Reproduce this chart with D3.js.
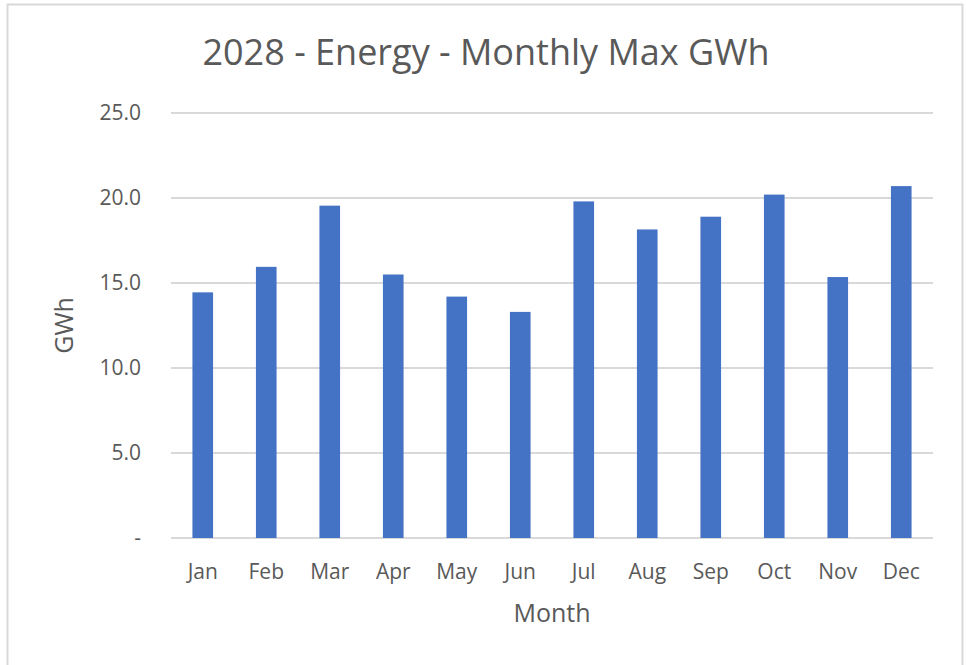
<!doctype html>
<html>
<head>
  <meta charset="UTF-8">
  <script src="https://d3js.org/d3.v7.min.js"></script>
  <style>
    body { margin: 0; background: #fff; }
    text { font-family: "Open Sans", sans-serif; fill: #595959; }
  </style>
</head>
<body>
<svg width="966" height="665"></svg>
<script>
// chart values
var months = ["Jan","Feb","Mar","Apr","May","Jun","Jul","Aug","Sep","Oct","Nov","Dec"];
var maxGwh = [14.45, 15.95, 19.55, 15.5, 14.2, 13.3, 19.8, 18.15, 18.9, 20.2, 15.35, 20.7];
var yTicks = [0, 5, 10, 15, 20, 25];
var titleText = "2028 - Energy - Monthly Max GWh";

var svg = d3.select("svg");
var margin = {top: 113, right: 33, bottom: 127, left: 171};
var width = 966 - margin.left - margin.right;
var height = 665 - margin.top - margin.bottom;

// chart frame
svg.append("rect")
  .attr("x", 7.5).attr("y", 4.5)
  .attr("width", 955).attr("height", 665)
  .attr("fill", "none").attr("stroke", "#d9d9d9").attr("stroke-width", 2);

var x = d3.scaleBand().domain(months).range([0, width]).paddingInner(0.675).paddingOuter(0.3375);
var y = d3.scaleLinear().domain([0, 25]).range([height, 0]);

var g = svg.append("g").attr("transform", "translate(" + margin.left + "," + margin.top + ")");

// gridlines
g.append("g").selectAll("line")
  .data(yTicks)
  .join("line")
  .attr("x1", 0).attr("x2", width)
  .attr("y1", d => y(d)).attr("y2", d => y(d))
  .attr("stroke", "#d9d9d9").attr("stroke-width", 2);

// y axis labels
var yAxis = g.append("g")
  .call(d3.axisLeft(y).tickValues(yTicks).tickSize(0).tickPadding(30)
    .tickFormat(d => d === 0 ? "-" : d3.format(".1f")(d)));
yAxis.select(".domain").remove();
yAxis.selectAll("text").style("font-size", "21px").attr("fill", "#595959");

// x axis labels
var xAxis = g.append("g")
  .attr("transform", "translate(0," + height + ")")
  .call(d3.axisBottom(x).tickSize(0).tickPadding(26));
xAxis.select(".domain").remove();
xAxis.selectAll("text").style("font-size", "21px").attr("fill", "#595959");

// bars
g.append("g").selectAll("rect")
  .data(maxGwh)
  .join("rect")
  .attr("x", (d, i) => x(months[i]))
  .attr("y", d => y(d))
  .attr("width", x.bandwidth())
  .attr("height", d => height - y(d))
  .attr("fill", "#4472c4");

// titles
svg.append("text")
  .attr("x", 486).attr("y", 65)
  .attr("text-anchor", "middle")
  .style("font-size", "36px")
  .text(titleText);

svg.append("text")
  .attr("x", margin.left + width / 2).attr("y", 622)
  .attr("text-anchor", "middle")
  .style("font-size", "25px")
  .text("Month");

svg.append("text")
  .attr("transform", "translate(73," + (margin.top + height / 2) + ") rotate(-90)")
  .attr("text-anchor", "middle")
  .style("font-size", "25px")
  .text("GWh");
</script>
</body>
</html>
